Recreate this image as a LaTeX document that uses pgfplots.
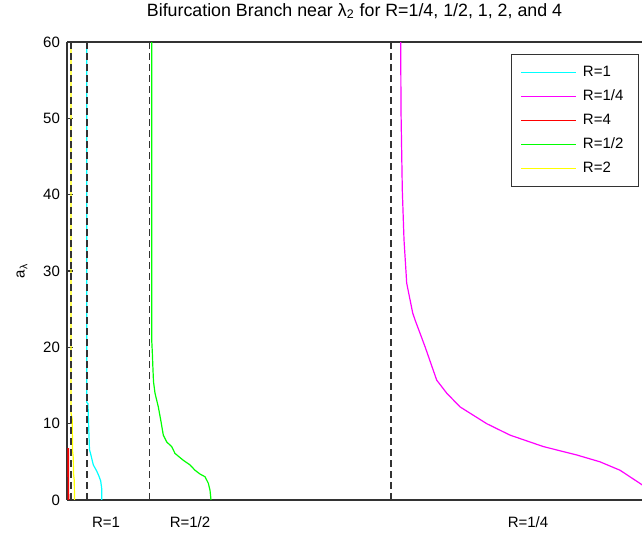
\documentclass[border=0pt]{standalone}
\usepackage{pgfplots}
\pgfplotsset{compat=1.18}
\usepackage{fontspec}
\setmainfont{Liberation Sans}
\definecolor{cRone}{RGB}{0,255,255}
\definecolor{cRquarter}{RGB}{255,0,255}
\definecolor{cRfour}{RGB}{255,0,0}
\definecolor{cRhalf}{RGB}{0,255,0}
\definecolor{cRtwo}{RGB}{255,255,0}
\begin{document}
\begin{tikzpicture}
\begin{axis}[
  at={(0pt,0pt)}, anchor=south west,
  scale only axis, width=287.5pt, height=229pt,
  xmin=67, xmax=642, ymin=0, ymax=60,
  separate axis lines, axis x line*=box, axis y line*=left,
  axis line style={draw=black!80, line width=0.7pt},
  ytick={0,10,...,60}, tick align=inside, major tick length=2.8pt,
  tick style={black!80, line width=0.6pt},
  xtick={106,190,528}, xticklabels={R=1,R=1/2,R=1/4},
  xtick style={draw=none},
  xticklabel style={anchor=base, yshift=-13.75pt},
  ticklabel style={font=\fontsize{7.5}{9}\selectfont},
  /pgf/number format/assume math mode=true,
  title={Bifurcation Branch near λ\textsubscript{2} for R=1/4, 1/2, 1, 2, and 4},
  title style={at={(axis description cs:0.5,1)}, anchor=base, yshift=7pt, font=\fontsize{8.9}{10}\selectfont},
  ylabel={a\textsubscript{λ}},
  ylabel style={at={(axis description cs:0,0.5)}, anchor=center, yshift=22.5pt, font=\fontsize{7.5}{9}\selectfont},
  legend style={at={(axis description cs:0.9948,0.9738)}, anchor=north east,
    draw=black!80, line width=0.6pt, font=\fontsize{7.5}{9}\selectfont,
    inner xsep=4.5pt, inner ysep=4.3pt, row sep=2.15pt, nodes={inner xsep=3pt, inner ysep=1.5pt}},
  legend cell align=left,
  legend image code/.code={\draw[#1, line width=0.6pt] (0pt,0pt) -- (27.5pt,0pt);},
]
% R=1 (cyan)
\addplot[draw=cRone, line width=0.6pt] coordinates {
(86.7,60) (86.7,12.8) (88,12.6) (88.5,10.3) (89.5,6.6) (90.7,6.0) (93.3,4.6) (96.7,3.8) (98.7,3.2) (100.7,2.5) (101.7,1.5) (101.7,0)};
\addlegendentry{R=1}
% R=1/4 (magenta)
\addplot[draw=cRquarter, line width=0.6pt] coordinates {
(400.7,60) (401,51) (402.3,40.6) (404,34.1) (406.7,28.4) (412.7,24.5) (415,23.6) (425,20.1) (436.7,15.7) (446.7,14.0) (460,12.2) (486.7,10.0) (510,8.5) (543.3,7.0) (576.7,5.9) (600,5.0) (620,3.9) (642,2.0) (655,0.5)};
\addlegendentry{R=1/4}
% R=4 (red)
\addplot[draw=cRfour, line width=0.8pt] coordinates {
(68.2,6.8) (68.3,3) (68.5,0)};
\addlegendentry{R=4}
% R=1/2 (green)
\addplot[draw=cRhalf, line width=0.6pt] coordinates {
(151.7,60) (151.7,21) (152.3,19.4) (153,17) (153.5,15.5) (155,14) (158.3,12.2) (160.7,10.5) (163.3,8.5) (166.7,7.6) (171.7,7.0) (175,6.1) (183.3,5.2) (190,4.6) (195,3.9) (200,3.4) (205,3.05) (208.3,2.2) (210,1.3) (211,0)};
\addlegendentry{R=1/2}
% R=2 (yellow)
\addplot[draw=cRtwo, line width=0.6pt] coordinates {
(71,60) (71,11.4) (72.3,10.5) (72.5,6.5) (73.3,5.5) (73.5,3.5) (74.3,2.5) (74.5,0)};
\addlegendentry{R=2}
% dashed asymptotes
\addplot[forget plot, draw=black!80, line width=0.8pt, dash pattern=on 3.5pt off 2pt] coordinates {(71,0) (71,60)};
\addplot[forget plot, draw=black!80, line width=0.8pt, dash pattern=on 3.5pt off 2pt] coordinates {(86.7,0) (86.7,60)};
\addplot[forget plot, draw=black!80, line width=0.8pt, dash pattern=on 3.5pt off 2pt] coordinates {(149.3,0) (149.3,60)};
\addplot[forget plot, draw=black!80, line width=0.8pt, dash pattern=on 3.5pt off 2pt] coordinates {(391,0) (391,60)};
\end{axis}
\pgfresetboundingbox
\path (-33.5pt,-17.5pt) rectangle (287.5pt,250pt);
\end{tikzpicture}
\end{document}
